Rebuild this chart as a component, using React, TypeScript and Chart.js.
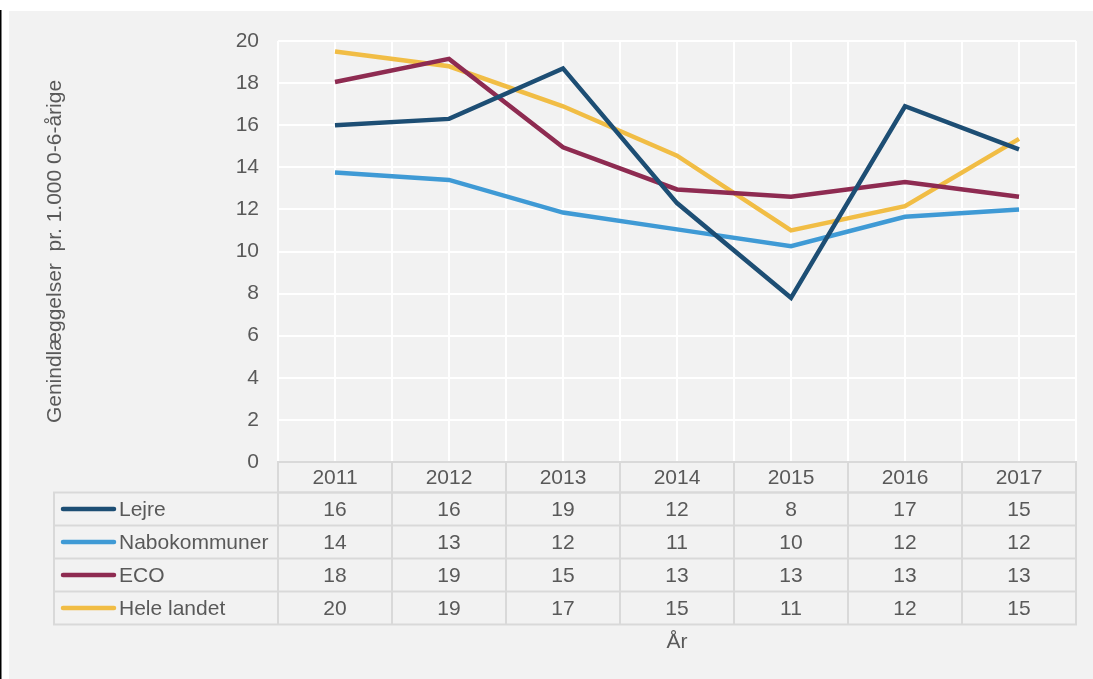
import React, { useEffect, useRef } from 'react';
import { Chart, registerables } from 'chart.js';

Chart.register(...registerables);

const years = ['2011', '2012', '2013', '2014', '2015', '2016', '2017'];
const seriesNames = ['Lejre', 'Nabokommuner', 'ECO', 'Hele landet'];
const lejre = [16.0, 16.3, 18.7, 12.3, 7.8, 16.9, 14.85];
const nabokommuner = [13.75, 13.4, 11.85, 11.05, 10.25, 11.65, 12.0];
const eco = [18.05, 19.15, 14.95, 12.95, 12.6, 13.3, 12.6];
const heleLandet = [19.5, 18.8, 16.9, 14.55, 11.0, 12.15, 15.35];
const tableLejre = [16, 16, 19, 12, 8, 17, 15];
const tableNabokommuner = [14, 13, 12, 11, 10, 12, 12];
const tableEco = [18, 19, 15, 13, 13, 13, 13];
const tableHeleLandet = [20, 19, 17, 15, 11, 12, 15];
const colors = ['#1d4e74', '#3f9ad5', '#8e2b51', '#f1bd45'];

const FONT = '"Liberation Sans", Arial, sans-serif';
const TEXT = '#595959';
const TABLE_LINE = '#d9d9d9';

const tablePlugin = {
  id: 'dataTable',
  beforeDraw(chart: any) {
    const ctx = chart.ctx;
    ctx.save();
    ctx.fillStyle = '#ffffff';
    ctx.fillRect(0, 0, chart.width, chart.height);
    ctx.fillStyle = '#000000';
    ctx.fillRect(0, 10, 1.5, chart.height - 10);
    ctx.fillStyle = '#f2f2f2';
    ctx.fillRect(9, 11, chart.width - 9, chart.height - 11);
    ctx.restore();
  },
  afterDraw(chart: any) {
    const ctx = chart.ctx;
    const area = chart.chartArea;
    const n = years.length;
    const colW = (area.right - area.left) / n;
    const headerTop = area.bottom;
    const headerBottom = headerTop + 30.5;
    const rowH = 33;
    const tableLeft = 54;
    const tableBottom = headerBottom + rowH * 4;
    const tableRows = [tableLejre, tableNabokommuner, tableEco, tableHeleLandet];
    const xs = chart.scales.x;

    ctx.save();
    ctx.strokeStyle = TABLE_LINE;
    ctx.lineWidth = 2;
    ctx.strokeRect(area.left, headerTop, area.right - area.left, headerBottom - headerTop);
    ctx.strokeRect(tableLeft, headerBottom, area.right - tableLeft, tableBottom - headerBottom);
    ctx.beginPath();
    for (let r = 1; r < 4; r++) {
      const y = headerBottom + r * rowH;
      ctx.moveTo(tableLeft, y);
      ctx.lineTo(area.right, y);
    }
    for (let i = 0; i < n; i++) {
      const x = area.left + i * colW;
      ctx.moveTo(x, headerTop);
      ctx.lineTo(x, tableBottom);
    }
    ctx.stroke();

    ctx.fillStyle = TEXT;
    ctx.font = `21px ${FONT}`;
    ctx.textAlign = 'center';
    ctx.textBaseline = 'middle';
    years.forEach((yr, i) => {
      ctx.fillText(yr, xs.getPixelForValue(i), (headerTop + headerBottom) / 2 + 1);
    });
    tableRows.forEach((row, r) => {
      const cy = headerBottom + r * rowH + rowH / 2 + 1;
      row.forEach((v, i) => {
        ctx.fillText(String(v), xs.getPixelForValue(i), cy);
      });
    });
    seriesNames.forEach((name, r) => {
      const cy = headerBottom + r * rowH + rowH / 2;
      ctx.strokeStyle = colors[r];
      ctx.lineWidth = 4.5;
      ctx.lineCap = 'round';
      ctx.beginPath();
      ctx.moveTo(63, cy);
      ctx.lineTo(114, cy);
      ctx.stroke();
      ctx.fillStyle = TEXT;
      ctx.textAlign = 'left';
      ctx.fillText(name, 119, cy + 1);
    });
    ctx.textAlign = 'center';
    ctx.fillText('År', (area.left + area.right) / 2, 642);
    ctx.restore();
  },
};

export default function App() {
  const ref = useRef<HTMLCanvasElement | null>(null);
  useEffect(() => {
    if (!ref.current) return;
    const mk = (label: string, data: number[], color: string) => ({
      label,
      data,
      borderColor: color,
      backgroundColor: color,
      borderWidth: 4.5,
      pointRadius: 0,
      tension: 0,
      fill: false,
      xAxisID: 'x',
      yAxisID: 'y',
    });
    const chart = new Chart(ref.current, {
      type: 'line',
      data: {
        labels: years,
        datasets: [
          mk(seriesNames[0], lejre, colors[0]),
          mk(seriesNames[1], nabokommuner, colors[1]),
          mk(seriesNames[2], eco, colors[2]),
          mk(seriesNames[3], heleLandet, colors[3]),
        ],
      },
      options: {
        responsive: false,
        animation: false,
        devicePixelRatio: 1,
        layout: { padding: { top: 41, right: 17, bottom: 0, left: 0 } },
        plugins: { legend: { display: false }, tooltip: { enabled: false }, title: { display: false } },
        scales: {
          x: {
            type: 'category',
            position: 'bottom',
            offset: true,
            grid: { offset: true, color: '#ffffff', lineWidth: 2, drawTicks: false },
            border: { display: false },
            ticks: { display: false },
            afterFit: (s: any) => { s.height = 217; },
          },
          x2: {
            type: 'category',
            position: 'bottom',
            offset: true,
            grid: { offset: false, color: '#ffffff', lineWidth: 2, drawTicks: false },
            border: { display: false },
            ticks: { display: false },
            afterFit: (s: any) => { s.height = 0; },
          },
          y: {
            min: 0,
            max: 20,
            ticks: { stepSize: 2, color: TEXT, font: { family: FONT, size: 21 }, padding: 19 },
            grid: { color: '#ffffff', lineWidth: 2, drawTicks: false },
            border: { display: false },
            title: {
              display: true,
              text: 'Genindlæggelser  pr. 1.000 0-6-årige',
              color: TEXT,
              font: { family: FONT, size: 21 },
              padding: { top: 43, bottom: 0 },
            },
            afterFit: (s: any) => { s.width = 278; },
          },
        },
      },
      plugins: [tablePlugin],
    } as any);
    return () => chart.destroy();
  }, []);
  return (
    <div style={{ position: 'absolute', left: 0, top: 0, width: 1093, height: 679 }}>
      <canvas ref={ref} width={1093} height={679} style={{ display: 'block' }} />
    </div>
  );
}
